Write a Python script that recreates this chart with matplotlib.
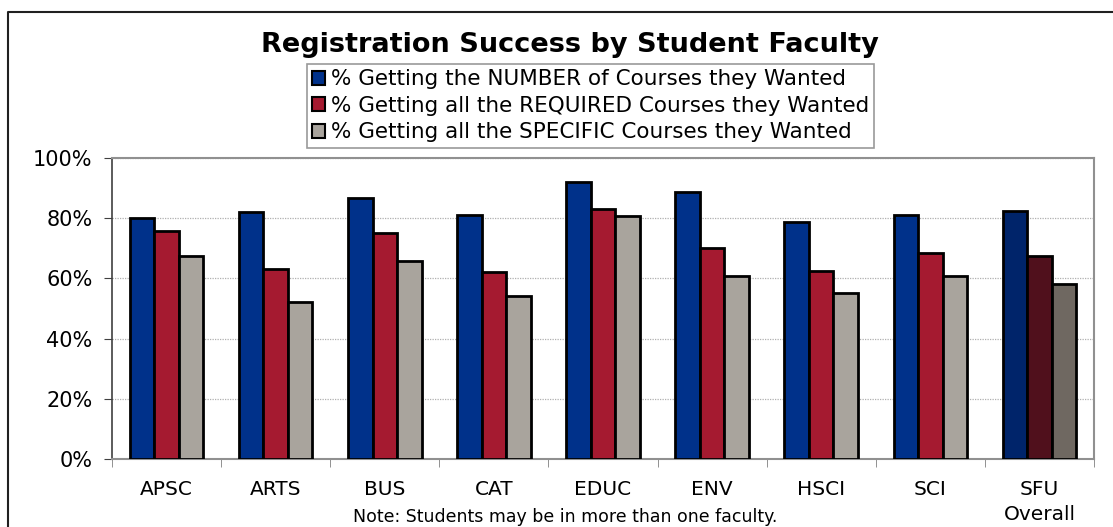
import numpy as np
import matplotlib.pyplot as plt
from matplotlib.patches import Patch
from matplotlib.lines import Line2D

# data (percent)
faculties = ["APSC", "ARTS", "BUS", "CAT", "EDUC", "ENV", "HSCI", "SCI", "SFU\nOverall"]
pct_number = [80.0, 82.0, 86.6, 81.0, 92.0, 88.6, 78.7, 80.9, 82.4]
pct_required = [75.8, 63.2, 75.1, 62.2, 83.2, 70.2, 62.4, 68.6, 67.4]
pct_specific = [67.6, 52.3, 65.7, 54.0, 80.6, 60.8, 55.1, 60.7, 58.3]
series_names = ["% Getting the NUMBER of Courses they Wanted",
                "% Getting all the REQUIRED Courses they Wanted",
                "% Getting all the SPECIFIC Courses they Wanted"]

blue, red, grey = "#00318A", "#A51A30", "#A9A49D"
dark = ["#00246A", "#50101C", "#6F6861"]   # SFU overall bars are darker

plt.rcParams['font.family'] = ['DejaVu Sans']

fig = plt.figure(figsize=(11.13, 5.27), dpi=100)
ax = fig.add_axes([112 / 1113, 1 - 459 / 527, (1094 - 112) / 1113, (459 - 158) / 527])

x = np.arange(len(faculties))
w = 0.225
for i, (vals, col) in enumerate(zip([pct_number, pct_required, pct_specific], [blue, red, grey])):
    cols = [col] * (len(faculties) - 1) + [dark[i]]
    ax.bar(x + (i - 1) * w, vals, width=w, color=cols, edgecolor="black", linewidth=2, zorder=3)

ax.set_xlim(-0.5, len(faculties) - 0.5)
ax.set_ylim(0, 100)
ax.set_yticks(range(0, 101, 20))
ax.set_yticklabels([f"{v}%" for v in range(0, 101, 20)], fontsize=15)
ax.yaxis.grid(True, linestyle=(0, (1, 1)), color="#B0B0B0", linewidth=0.9, zorder=0)

ax.set_xticks(x)
ax.set_xticklabels(faculties, fontsize=14.5, linespacing=1.4)
ax.set_xticks(np.arange(-0.5, len(faculties), 1), minor=True)
ax.tick_params(axis="x", which="major", length=0, pad=15)
ax.tick_params(axis="x", which="minor", length=6, color="#808080", direction="out")
ax.tick_params(axis="y", length=6, color="#404040", direction="out", pad=8)

for side in ["top", "right", "bottom"]:
    ax.spines[side].set_color("#909090")
    ax.spines[side].set_linewidth(1.5)
ax.spines["left"].set_color("#404040")
ax.spines["left"].set_linewidth(1.2)

fig.text(570 / 1113, 1 - 45 / 527, "Registration Success by Student Faculty",
         ha="center", va="center", fontsize=19.5, fontweight="bold")
fig.text(565 / 1113, 1 - 517 / 527, "Note: Students may be in more than one faculty.",
         ha="center", va="center", fontsize=12.5)

handles = [Patch(facecolor=c, edgecolor="black", linewidth=1.5) for c in [blue, red, grey]]
leg = fig.legend(handles, series_names, loc="upper left",
                 bbox_to_anchor=(307 / 1113, 1 - 64 / 527), fontsize=15.5,
                 frameon=True, fancybox=False, handlelength=0.6, handleheight=0.6,
                 handletextpad=0.25, labelspacing=0.3, borderpad=0.25, borderaxespad=0)
leg.get_frame().set_edgecolor("#808080")
leg.get_frame().set_linewidth(1.2)

# outer frame: only top and left edges show, the rest is cut off
bx, by = 8 / 1113, 1 - 12 / 527
fig.lines.append(Line2D([bx, bx, 1], [0, by, by], transform=fig.transFigure,
                        color="#202020", linewidth=1.5))

fig.savefig("out.png", dpi=100)
